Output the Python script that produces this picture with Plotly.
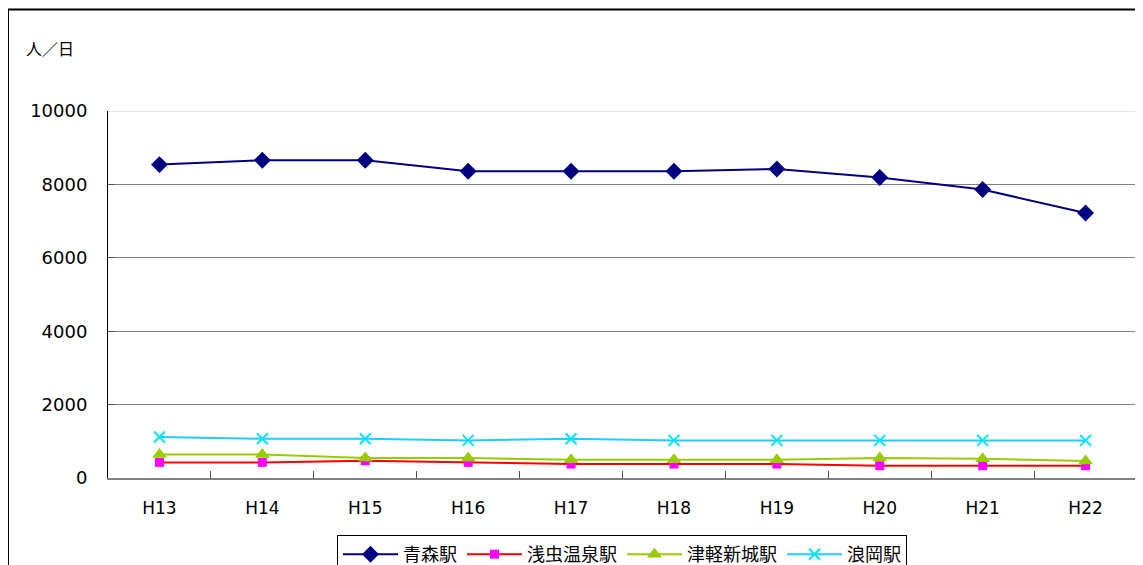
import plotly.graph_objects as go

categories = ["H13", "H14", "H15", "H16", "H17", "H18", "H19", "H20", "H21", "H22"]
aomori = [8540, 8660, 8660, 8360, 8360, 8360, 8420, 8190, 7860, 7220]
asamushi = [425, 425, 470, 425, 380, 380, 380, 335, 335, 335]
tsugaru_shinjo = [640, 640, 545, 545, 500, 500, 500, 545, 525, 465]
namioka = [1115, 1070, 1070, 1025, 1070, 1025, 1025, 1025, 1025, 1025]
series_names = ["青森駅", "浅虫温泉駅", "津軽新城駅", "浪岡駅"]
y_ticks = [0, 2000, 4000, 6000, 8000, 10000]
unit_label = "人／日"

OFF = 8  # browser default body margin
W, H = 1143 - OFF, 565 - OFF
# plot area edges in screenshot pixels
SL, SR, ST, SB = 108, 1137, 111, 478
L, R, T, B = SL - OFF, SR - OFF, ST - OFF, SB - OFF


def px_x(p):
    return (p - OFF - L) / (R - L)


def px_y(p):
    return (B - (p - OFF)) / (B - T)


fig = go.Figure()
fig.add_trace(go.Scatter(
    x=categories, y=aomori, name=series_names[0], mode="lines+markers",
    line=dict(color="#000080", width=2),
    marker=dict(symbol="diamond", size=13, color="#000080"),
))
fig.add_trace(go.Scatter(
    x=categories, y=asamushi, name=series_names[1], mode="lines+markers",
    line=dict(color="#FF0000", width=2),
    marker=dict(symbol="square", size=9, color="#FF00FF"),
))
fig.add_trace(go.Scatter(
    x=categories, y=tsugaru_shinjo, name=series_names[2], mode="lines+markers",
    line=dict(color="#99CC00", width=2),
    marker=dict(symbol="triangle-up", size=13, color="#99CC00"),
))
fig.add_trace(go.Scatter(
    x=categories, y=namioka, name=series_names[3], mode="lines+markers",
    line=dict(color="#1ECCFF", width=2),
    marker=dict(symbol="x-thin", size=11, line=dict(color="#00E5FF", width=2)),
))

fig.update_layout(
    width=W, height=H,
    margin=dict(l=L, r=W - R, t=T, b=H - B),
    paper_bgcolor="white", plot_bgcolor="white",
    showlegend=True,
    legend=dict(
        orientation="h",
        xref="container", x=(622 - OFF) / W, xanchor="center",
        yref="container", y=1 - (535 - OFF) / H, yanchor="top",
        bordercolor="black", borderwidth=1, bgcolor="white",
        font=dict(family="Noto Sans CJK JP", size=18, color="black"),
        itemwidth=55,
    ),
    xaxis=dict(
        type="category", range=[-0.5, len(categories) - 0.5],
        showgrid=False, showline=True, linecolor="#808080", linewidth=2,
        ticks="inside", tickson="boundaries", ticklen=7, tickcolor="#555555",
        tickfont=dict(family="DejaVu Sans", size=17, color="black"),
        ticklabelstandoff=14,
        fixedrange=True,
    ),
    yaxis=dict(
        range=[y_ticks[0], y_ticks[-1]], tickvals=y_ticks, tickformat="d",
        showgrid=True, gridcolor="#808080", gridwidth=1,
        showline=True, linecolor="#000000", linewidth=1,
        ticks="inside", ticklen=7, tickcolor="#555555",
        tickfont=dict(family="DejaVu Sans", size=18, color="black"),
        ticklabelstandoff=16,
        zeroline=False, fixedrange=True,
    ),
    annotations=[dict(
        text=unit_label, xref="paper", yref="paper",
        x=px_x(24), y=px_y(48), xanchor="left", yanchor="middle",
        showarrow=False, font=dict(family="Noto Sans CJK JP", size=16, color="black"),
    )],
    shapes=[
        # lighter top gridline
        dict(type="line", xref="paper", yref="y", x0=0, x1=1,
             y0=y_ticks[-1], y1=y_ticks[-1], line=dict(color="#DDDDDD", width=1.5)),
        # outer chart border (top & left visible)
        dict(type="line", xref="paper", yref="paper", x0=px_x(8), x1=px_x(1160),
             y0=px_y(9.5), y1=px_y(9.5), line=dict(color="black", width=2)),
        dict(type="line", xref="paper", yref="paper", x0=px_x(8), x1=px_x(8),
             y0=px_y(9.5), y1=px_y(580), line=dict(color="black", width=2)),
    ],
)

fig.write_html("out.html")
